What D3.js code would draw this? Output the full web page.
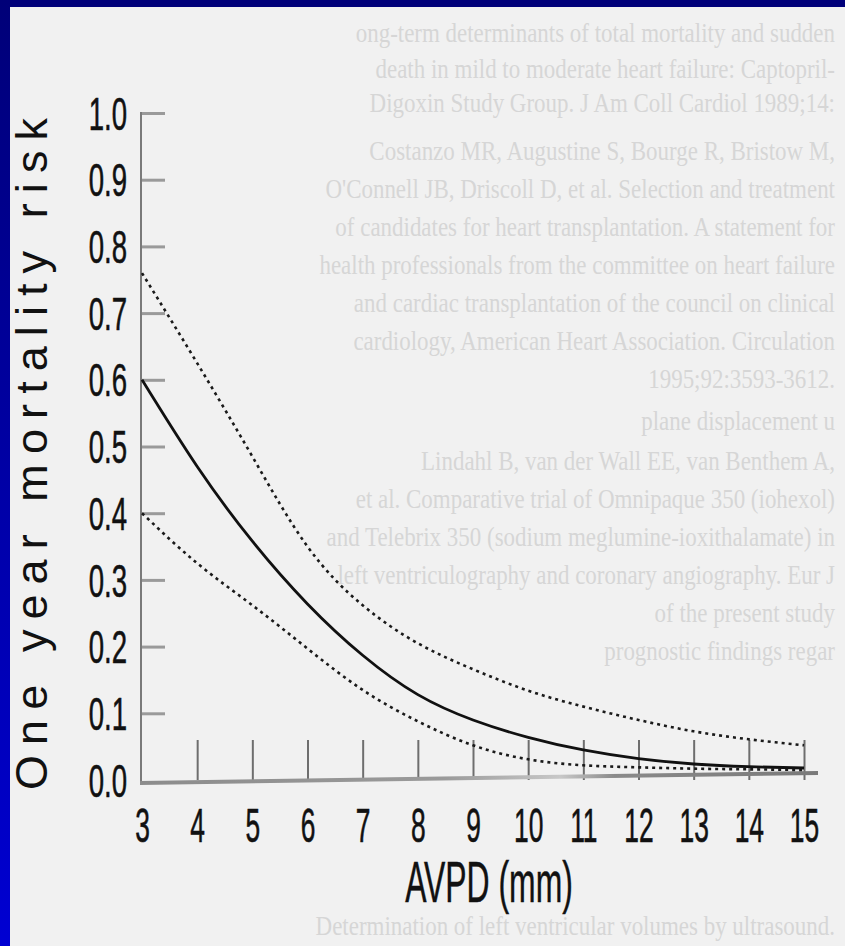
<!DOCTYPE html>
<html>
<head>
<meta charset="utf-8">
<script src="https://cdn.jsdelivr.net/npm/d3@7"></script>
<style>
  html, body { margin: 0; padding: 0; background: #f1f1f1; }
  svg { display: block; }
</style>
</head>
<body>
<svg id="chart" width="845" height="946"></svg>
<script>
// ---- chart data ----
const avpd = [3, 4, 5, 6, 7, 8, 9, 10, 11, 12, 13, 14, 15];
const upperBound = [0.76, 0.625, 0.485, 0.35, 0.262, 0.205, 0.166, 0.134, 0.11, 0.09, 0.073, 0.061, 0.052];
const riskEstimate = [0.60, 0.47, 0.358, 0.264, 0.187, 0.128, 0.09, 0.064, 0.045, 0.032, 0.024, 0.02, 0.018];
const lowerBound = [0.40, 0.325, 0.262, 0.197, 0.135, 0.088, 0.052, 0.031, 0.022, 0.019, 0.017, 0.016, 0.015];
const yTicks = [0.0, 0.1, 0.2, 0.3, 0.4, 0.5, 0.6, 0.7, 0.8, 0.9, 1.0];
const xTicks = [3, 4, 5, 6, 7, 8, 9, 10, 11, 12, 13, 14, 15];
const yTitle = "One year mortality risk";
const xTitle = "AVPD (mm)";

// faint bleed-through text of the scanned page (decoration)
const pageLines = [
  "ong-term determinants of total mortality and sudden",
  "death in mild to moderate heart failure: Captopril-",
  "Digoxin Study Group. J Am Coll Cardiol 1989;14:",
  "Costanzo MR, Augustine S, Bourge R, Bristow M,",
  "O'Connell JB, Driscoll D, et al. Selection and treatment",
  "of candidates for heart transplantation. A statement for",
  "health professionals from the committee on heart failure",
  "and cardiac transplantation of the council on clinical",
  "cardiology, American Heart Association. Circulation",
  "1995;92:3593-3612.",
  "plane displacement u",
  "Lindahl B, van der Wall EE, van Benthem A,",
  "et al. Comparative trial of Omnipaque 350 (iohexol)",
  "and Telebrix 350 (sodium meglumine-ioxithalamate) in",
  "left ventriculography and coronary angiography. Eur J",
  "of the present study",
  "prognostic findings regar",
  "Determination of left ventricular volumes by ultrasound."
];

const svg = d3.select("#chart");
const W = 845, H = 946;

// ---- page background & blue frame ----
const defs = svg.append("defs");
const lg = defs.append("linearGradient").attr("id", "leftBand")
  .attr("x1", 0).attr("y1", 0).attr("x2", 0).attr("y2", 1);
lg.append("stop").attr("offset", "0%").attr("stop-color", "#000078");
lg.append("stop").attr("offset", "100%").attr("stop-color", "#0000d2");

const ag = defs.append("linearGradient").attr("id", "axisGrad")
  .attr("x1", 0).attr("y1", 0).attr("x2", 1).attr("y2", 0);
ag.append("stop").attr("offset", "0%").attr("stop-color", "#8c8c8c");
ag.append("stop").attr("offset", "45%").attr("stop-color", "#9a9a9a");
ag.append("stop").attr("offset", "62%").attr("stop-color", "#c8c8c8");
ag.append("stop").attr("offset", "70%").attr("stop-color", "#8a8a8a");
ag.append("stop").attr("offset", "100%").attr("stop-color", "#7a7a7a");

svg.append("rect").attr("width", W).attr("height", H).attr("fill", "#f1f1f1");

// faint page text
const bg = svg.append("g").attr("fill", "#d6d6d6")
  .style("font-family", "'Liberation Serif', 'DejaVu Serif', serif")
  .style("font-size", "28px");
const lineY = [42, 78, 112, 160, 198, 236, 274, 312, 350, 388, 430, 470, 508, 546, 584, 622, 660, 935];
pageLines.forEach((t, i) => {
  bg.append("text")
    .attr("transform", `translate(835,${lineY[i]}) scale(0.82,1)`)
    .attr("text-anchor", "end")
    .text(t);
});

// frame bands
svg.append("rect").attr("x", 0).attr("y", 0).attr("width", W).attr("height", 7).attr("fill", "#00007a");
svg.append("rect").attr("x", 0).attr("y", 0).attr("width", 10).attr("height", H).attr("fill", "url(#leftBand)");

// ---- scales ----
const x = d3.scaleLinear().domain([3, 15]).range([142, 804]);
const y = d3.scaleLinear().domain([0, 1]).range([780, 113]);

const narrow = "'Liberation Sans', Arial, sans-serif";

// ---- y axis ----
const ySx = 0.6;
const yAxis = d3.axisLeft(y).tickValues(yTicks).tickFormat(d3.format(".1f"))
  .tickSizeInner(-24).tickSizeOuter(0).tickPadding(14);
const gy = svg.append("g").attr("transform", "translate(141,0)").call(yAxis);
gy.select(".domain").remove();
gy.selectAll(".tick line").attr("stroke", "#9a9a9a").attr("stroke-width", 3)
  .filter(d => d === 0).remove();
gy.selectAll(".tick text")
  .attr("x", -14 / ySx).attr("dy", "0.35em")
  .attr("transform", `scale(${ySx},1)`)
  .style("font-family", narrow).style("font-size", "46px").attr("fill", "#111")
  .attr("stroke", "#111").attr("stroke-width", 0.6);
svg.append("line").attr("x1", 141).attr("x2", 141).attr("y1", 112).attr("y2", 784)
  .attr("stroke", "#7a7a7a").attr("stroke-width", 2);

// ---- x axis ----
const xSx = 0.55;
const xAxis = d3.axisBottom(x).tickValues(xTicks).tickFormat(d3.format("d"))
  .tickSizeInner(-40).tickSizeOuter(0).tickPadding(0);
const gx = svg.append("g").attr("transform", "translate(0,780)").call(xAxis);
gx.select(".domain").remove();
gx.selectAll(".tick line").attr("stroke", "#6e6e6e").attr("stroke-width", 2)
  .filter(d => d === 3).remove();
gx.selectAll(".tick text")
  .attr("y", 62).attr("dy", 0).attr("x", 0)
  .attr("transform", `scale(${xSx},1)`)
  .style("font-family", narrow).style("font-size", "48px").attr("fill", "#111")
  .attr("stroke", "#111").attr("stroke-width", 0.6);
svg.append("line").attr("x1", 140).attr("x2", 818).attr("y1", 783).attr("y2", 773)
  .attr("stroke", "url(#axisGrad)").attr("stroke-width", 4);

// ---- curves ----
const line = d3.line().x(d => x(d[0])).y(d => y(d[1])).curve(d3.curveNatural);
const plot = svg.append("g").attr("fill", "none");
plot.append("path").datum(avpd.map((v, i) => [v, upperBound[i]]))
  .attr("d", line).attr("stroke", "#1a1a1a").attr("stroke-width", 2.6).attr("stroke-dasharray", "3,4");
plot.append("path").datum(avpd.map((v, i) => [v, lowerBound[i]]))
  .attr("d", line).attr("stroke", "#1a1a1a").attr("stroke-width", 2.6).attr("stroke-dasharray", "3,4");
plot.append("path").datum(avpd.map((v, i) => [v, riskEstimate[i]]))
  .attr("d", line).attr("stroke", "#111").attr("stroke-width", 2.8);

// ---- titles ----
svg.append("text")
  .attr("transform", "translate(47,790) rotate(-90)")
  .attr("textLength", 672).attr("lengthAdjust", "spacing")
  .style("font-family", narrow).style("font-size", "45px").attr("fill", "#111")
  .text(yTitle);

svg.append("text")
  .attr("transform", "translate(489,902) scale(0.55,1)")
  .attr("text-anchor", "middle")
  .style("font-family", narrow).style("font-size", "58px").attr("fill", "#111")
  .attr("stroke", "#111").attr("stroke-width", 0.5)
  .text(xTitle);
</script>
</body>
</html>
